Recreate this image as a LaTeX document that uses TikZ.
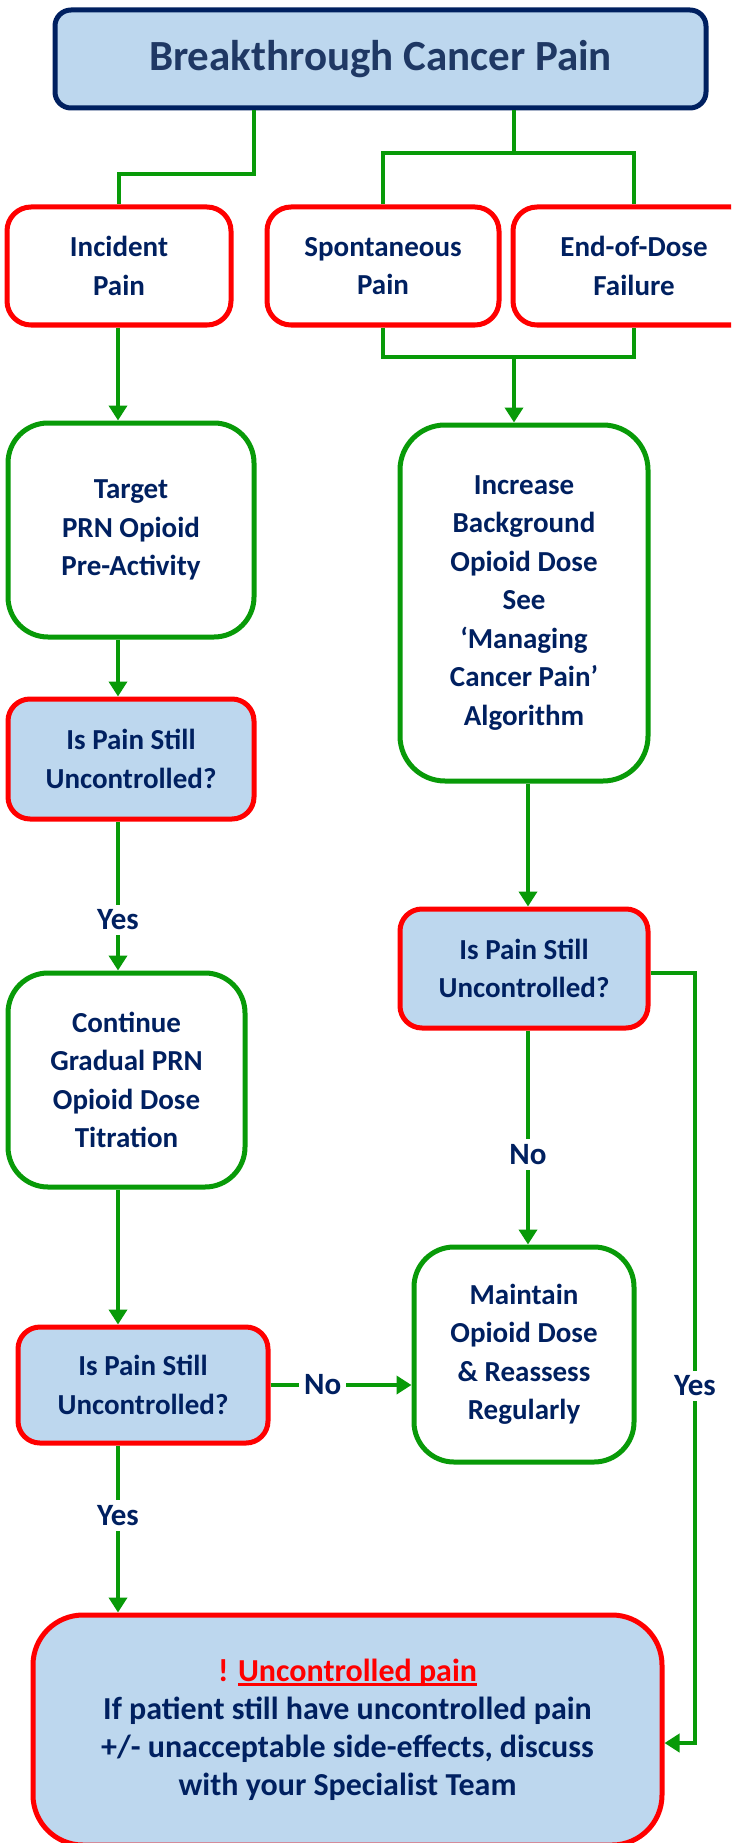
\documentclass[tikz,border=0pt]{standalone}
\usepackage{fontspec}
\setmainfont{Carlito}
\usetikzlibrary{arrows.meta}
\definecolor{navy}{HTML}{002060}
\definecolor{titlenavy}{HTML}{1F3864}
\definecolor{paleblue}{HTML}{BDD7EE}
\definecolor{pred}{HTML}{FF0000}
\definecolor{lgreen}{HTML}{089A08}
\newcommand\boxfont{\fontsize{29}{38.5}\selectfont\bfseries}
\newcommand\notefont{\fontsize{32}{38}\selectfont\bfseries}
\newcommand\redul[1]{\setbox0\hbox{#1}\rlap{\copy0}\rule[-4.5pt]{\wd0}{3pt}}
\tikzset{
  conn/.style={draw=lgreen, line width=4.5pt},
  arr/.style={conn, -{Triangle[width=18pt,length=15pt]}},
  basebox/.style={align=center, font=\boxfont, text=navy, inner sep=0pt, line width=5pt},
  redbox/.style={basebox, draw=pred, fill=white, rounded corners=24pt},
  askbox/.style={basebox, draw=pred, fill=paleblue, rounded corners=22pt},
  greenbox/.style={basebox, draw=lgreen, fill=white, rounded corners=40pt},
  lbl/.style={fill=white, text=navy, font=\fontsize{31}{36}\selectfont\bfseries, inner sep=5pt}
}
\begin{document}
\begin{tikzpicture}[x=1pt, y=-1pt]
\useasboundingbox (0,0) rectangle (731,1843);
\clip (0,0) rectangle (731,1843);

% header
\node[basebox, draw=navy, fill=paleblue, rounded corners=16pt, text=titlenavy,
      font=\fontsize{43}{48}\selectfont\bfseries,
      minimum width=651pt, minimum height=98pt] (title) at (380.5,59) {Breakthrough Cancer Pain};

% pain types
\node[redbox, minimum width=224pt, minimum height=118pt] (incident) at (119,266) {Incident\\Pain};
\node[redbox, minimum width=232pt, minimum height=118pt] (spont) at (383,266) {Spontaneous\\Pain};
\node[redbox, minimum width=242pt, minimum height=118pt] (endd) at (634,266) {End-of-Dose\\Failure};

% left column
\node[greenbox, minimum width=246pt, minimum height=214pt] (target) at (131,530) {Target\\PRN Opioid\\Pre-Activity};
\node[askbox, minimum width=246pt, minimum height=120pt] (box1) at (131,759) {Is Pain Still\\Uncontrolled?};
\node[greenbox, minimum width=237pt, minimum height=214pt] (cont) at (126.5,1080) {Continue\\Gradual PRN\\Opioid Dose\\Titration};
\node[askbox, minimum width=250pt, minimum height=116pt] (box3) at (143,1385) {Is Pain Still\\Uncontrolled?};

% right column
\node[greenbox, rounded corners=45pt, minimum width=248pt, minimum height=356pt] (increase) at (524,603)
  {Increase\\Background\\Opioid Dose\\See\\‘Managing\\Cancer Pain’\\Algorithm};
\node[askbox, minimum width=248pt, minimum height=119pt] (box2) at (524,968.5) {Is Pain Still\\Uncontrolled?};
\node[greenbox, minimum width=220pt, minimum height=215pt] (maintain) at (524,1354.5) {Maintain\\Opioid Dose\\\& Reassess\\Regularly};

% final warning
\node[askbox, rounded corners=50pt, minimum width=629pt, minimum height=230pt, font=\notefont] (final) at (347.5,1730)
  {\textcolor{pred}{! \redul{Uncontrolled pain}}\\If patient still have uncontrolled pain\\+/- unacceptable side-effects, discuss\\with your Specialist Team};

% routing points
\coordinate (lbend) at (254,174);
\coordinate (rjoin) at (514,153);
\coordinate (bjoin) at (514,357);
\coordinate (lx) at (118,0);
\coordinate (rx) at (528,0);
\coordinate (rtop) at (695,973);
\coordinate (rbot) at (695,1743);

% header to pain types
\draw[conn] (lbend |- title.south) -- (lbend) -| (incident.north);
\draw[conn] (rjoin |- title.south) -- (rjoin);
\draw[conn] (spont.north) |- (rjoin) -| (endd.north);
\draw[conn] (spont.south) |- (bjoin) -| (endd.south);
\draw[arr] (bjoin) -- (bjoin |- increase.north);

% left column flow
\draw[arr] (lx |- incident.south) -- (lx |- target.north);
\draw[arr] (lx |- target.south) -- (lx |- box1.north);
\draw[arr] (lx |- box1.south) -- node[lbl, pos=0.66] {Yes} (lx |- cont.north);
\draw[arr] (lx |- cont.south) -- (lx |- box3.north);
\draw[arr] (lx |- box3.south) -- node[lbl, pos=0.42] {Yes} (lx |- final.north);
\draw[arr] (box3.east) -- node[lbl, pos=0.37] {No} (box3.east -| maintain.west);

% right column flow
\draw[arr] (rx |- increase.south) -- (rx |- box2.north);
\draw[arr] (rx |- box2.south) -- node[lbl, pos=0.58] {No} (rx |- maintain.north);
\draw[arr] (box2.east |- rtop) -- (rtop) -- node[lbl, pos=0.536] {Yes} (rbot) -- (rbot -| final.east);
\end{tikzpicture}
\end{document}
